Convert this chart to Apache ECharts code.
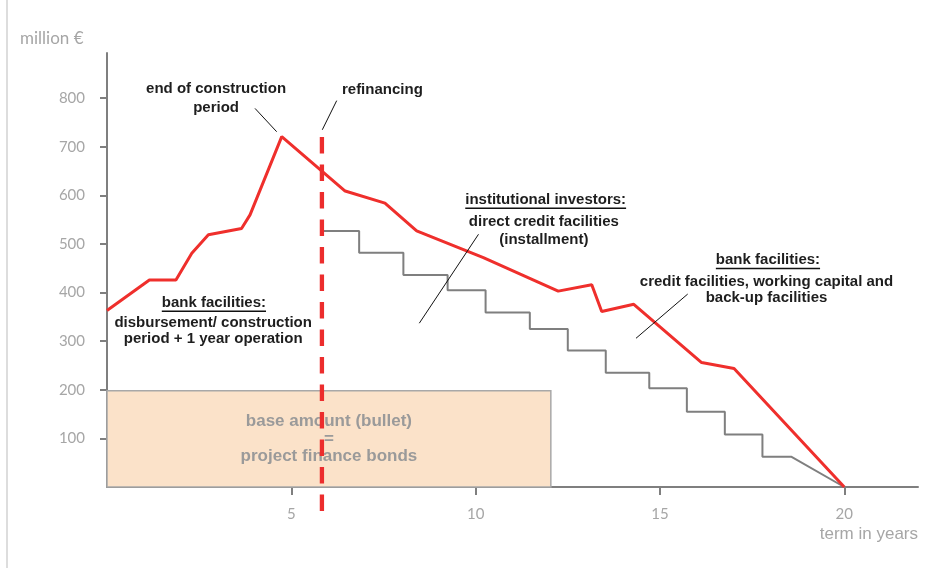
<!DOCTYPE html>
<html>
<head>
<meta charset="utf-8">
<script src="https://cdn.jsdelivr.net/npm/echarts@6/dist/echarts.min.js"></script>
<style>
  html, body { margin: 0; padding: 0; background: #ffffff; }
  #chart { width: 948px; height: 568px; }
</style>
</head>
<body>
<div id="chart"></div>
<script>
// Total financing volume (bank facilities, then institutional refinancing)
const totalYears  = [0, 1.15, 1.87, 2.30, 2.75, 3.65, 3.88, 4.74, 6.46, 7.54, 8.40, 10.21, 12.24, 13.15, 13.42, 14.29, 16.13, 17.01, 20];
const totalValues = [363, 426, 426, 481, 519, 532, 560, 721, 609, 584, 527, 472, 403, 416, 361, 376, 256, 244, 0];

// Institutional installment schedule: each level starts at the given year
const stepYears  = [5.82, 6.84, 8.04, 9.24, 10.27, 11.47, 12.50, 13.53, 14.71, 15.73, 16.76, 17.78, 18.57];
const stepLevels = [527, 482, 436, 405, 359, 325, 281, 235, 203, 155, 108, 62];
const finalYear = 20;

// Refinancing date
const refinancingYear = 5.83;

// Bullet bond block
const bondEndYear = 12.04;
const bondAmount = 198;

// Axis ticks
const xTicks = [5, 10, 15, 20];
const yTicks = [100, 200, 300, 400, 500, 600, 700, 800];

const axisGray = '#7f7f7f';
const labelGray = '#a6a6a6';
const red = '#ef2f2c';

const totalData = totalYears.map((x, i) => [x, totalValues[i]]);

const stepData = [];
stepLevels.forEach((lvl, i) => {
  stepData.push([stepYears[i], lvl]);
  stepData.push([stepYears[i + 1], lvl]);
});
stepData.push([finalYear, 0]);

const chart = echarts.init(document.getElementById('chart'));

const option = {
  backgroundColor: '#ffffff',
  animation: false,
  title: [
    { text: 'million €', left: 20, top: 30, padding: 0,
      textStyle: { color: labelGray, fontSize: 17, fontWeight: 'normal', fontFamily: 'Lato' } },
    { text: 'term in years', right: 30, top: 526, padding: 0,
      textStyle: { color: labelGray, fontSize: 17, fontWeight: 'normal', fontFamily: 'Liberation Sans' } }
  ],
  grid: { left: 107, right: 30, top: 53, bottom: 81, outerBoundsMode: 'none' },
  xAxis: {
    type: 'value', min: 0, max: 22,
    axisLine: { lineStyle: { color: axisGray, width: 2 } },
    axisTick: { show: true, length: 8, customValues: xTicks, lineStyle: { color: axisGray, width: 2 } },
    axisLabel: { customValues: xTicks, margin: 20, color: labelGray, fontSize: 15, fontFamily: 'Lato' },
    splitLine: { show: false }
  },
  yAxis: {
    type: 'value', min: 0, max: 893,
    axisLine: { show: true, lineStyle: { color: axisGray, width: 2 } },
    axisTick: { show: true, length: 7, customValues: yTicks, lineStyle: { color: axisGray, width: 2 } },
    axisLabel: { customValues: yTicks, margin: 22, color: labelGray, fontSize: 15, fontFamily: 'Lato' },
    splitLine: { show: false }
  },
  series: [
    {
      // base amount block (bullet bonds)
      type: 'line', data: [], z: 1,
      markArea: {
        silent: true,
        itemStyle: { color: '#fbe2c9', borderColor: '#a8a8a8', borderWidth: 1.5 },
        label: {
          show: true, position: 'inside',
          formatter: 'base amount (bullet)\n=\nproject finance bonds',
          color: '#9a9a9a', fontSize: 17, fontWeight: 'bold', fontFamily: 'Liberation Sans',
          lineHeight: 17.5, align: 'center'
        },
        data: [[{ coord: [0, 0] }, { coord: [bondEndYear, bondAmount] }]]
      }
    },
    {
      type: 'line', data: stepData, z: 3,
      showSymbol: false, symbol: 'none',
      lineStyle: { color: axisGray, width: 2 }
    },
    {
      type: 'line', data: totalData, z: 4,
      showSymbol: false, symbol: 'none',
      lineStyle: { color: red, width: 3 }
    },
    {
      type: 'line', z: 6, clip: false,
      data: [[refinancingYear, 720], [refinancingYear, -52]],
      showSymbol: false, symbol: 'none',
      lineStyle: { color: '#ec2d2d', width: 4.3, type: [16.5, 11] }
    }
  ]
};
chart.setOption(option);

// Annotation texts anchored in data space
const annoFont = 'bold 15px "Liberation Sans"';
const notes = [
  { at: [2.96, 799], lines: ['end of construction', 'period'], lh: 19 },
  { at: [7.47, 818], lines: ['refinancing'], lh: 19 },
  { at: [2.90, 379], title: 'bank facilities:', bodyAt: [2.88, 320.5],
    lines: ['disbursement/ construction', 'period + 1 year operation'], lh: 16 },
  { at: [11.90, 591], title: 'institutional investors:', bodyAt: [11.85, 527],
    lines: ['direct credit facilities', '(installment)'], lh: 18.5 },
  { at: [17.93, 467], title: 'bank facilities:', bodyAt: [17.89, 405.5],
    lines: ['credit facilities, working capital and', 'back-up facilities'], lh: 16.6 }
];
const leaders = [
  [[4.015, 779], [4.603, 731]],
  [[6.231, 795], [5.840, 735]],
  [[8.472, 337], [10.078, 520]],
  [[14.350, 306], [15.753, 397]]
];

const measure = document.createElement('canvas').getContext('2d');
measure.font = annoFont;

const px = (p) => chart.convertToPixel({ gridIndex: 0 }, p);
const graphics = [];
notes.forEach((n) => {
  if (n.title) {
    const t = px(n.at);
    graphics.push({
      type: 'text', x: t[0], y: t[1], z: 10,
      style: { text: n.title, font: annoFont, fill: '#1e1e1e', align: 'center', verticalAlign: 'middle' }
    });
    const w = measure.measureText(n.title).width;
    graphics.push({
      type: 'line', z: 10,
      shape: { x1: t[0] - w / 2, y1: t[1] + 8.5, x2: t[0] + w / 2, y2: t[1] + 8.5 },
      style: { stroke: '#111111', lineWidth: 1.5 }
    });
    const b = px(n.bodyAt);
    graphics.push({
      type: 'text', x: b[0], y: b[1], z: 10,
      style: { text: n.lines.join('\n'), font: annoFont, fill: '#1e1e1e', align: 'center',
               verticalAlign: 'middle', lineHeight: n.lh }
    });
  } else {
    const b = px(n.at);
    graphics.push({
      type: 'text', x: b[0], y: b[1], z: 10,
      style: { text: n.lines.join('\n'), font: annoFont, fill: '#1e1e1e', align: 'center',
               verticalAlign: 'middle', lineHeight: n.lh }
    });
  }
});
leaders.forEach((l) => {
  const a = px(l[0]), b = px(l[1]);
  graphics.push({
    type: 'line', z: 10,
    shape: { x1: a[0], y1: a[1], x2: b[0], y2: b[1] },
    style: { stroke: '#111111', lineWidth: 1 }
  });
});
// frame edge on the left
graphics.push({
  type: 'line', z: 0,
  shape: { x1: 7, y1: 0, x2: 7, y2: 568 },
  style: { stroke: '#d2d2d2', lineWidth: 1.5 }
});
chart.setOption({ graphic: graphics });
</script>
</body>
</html>
